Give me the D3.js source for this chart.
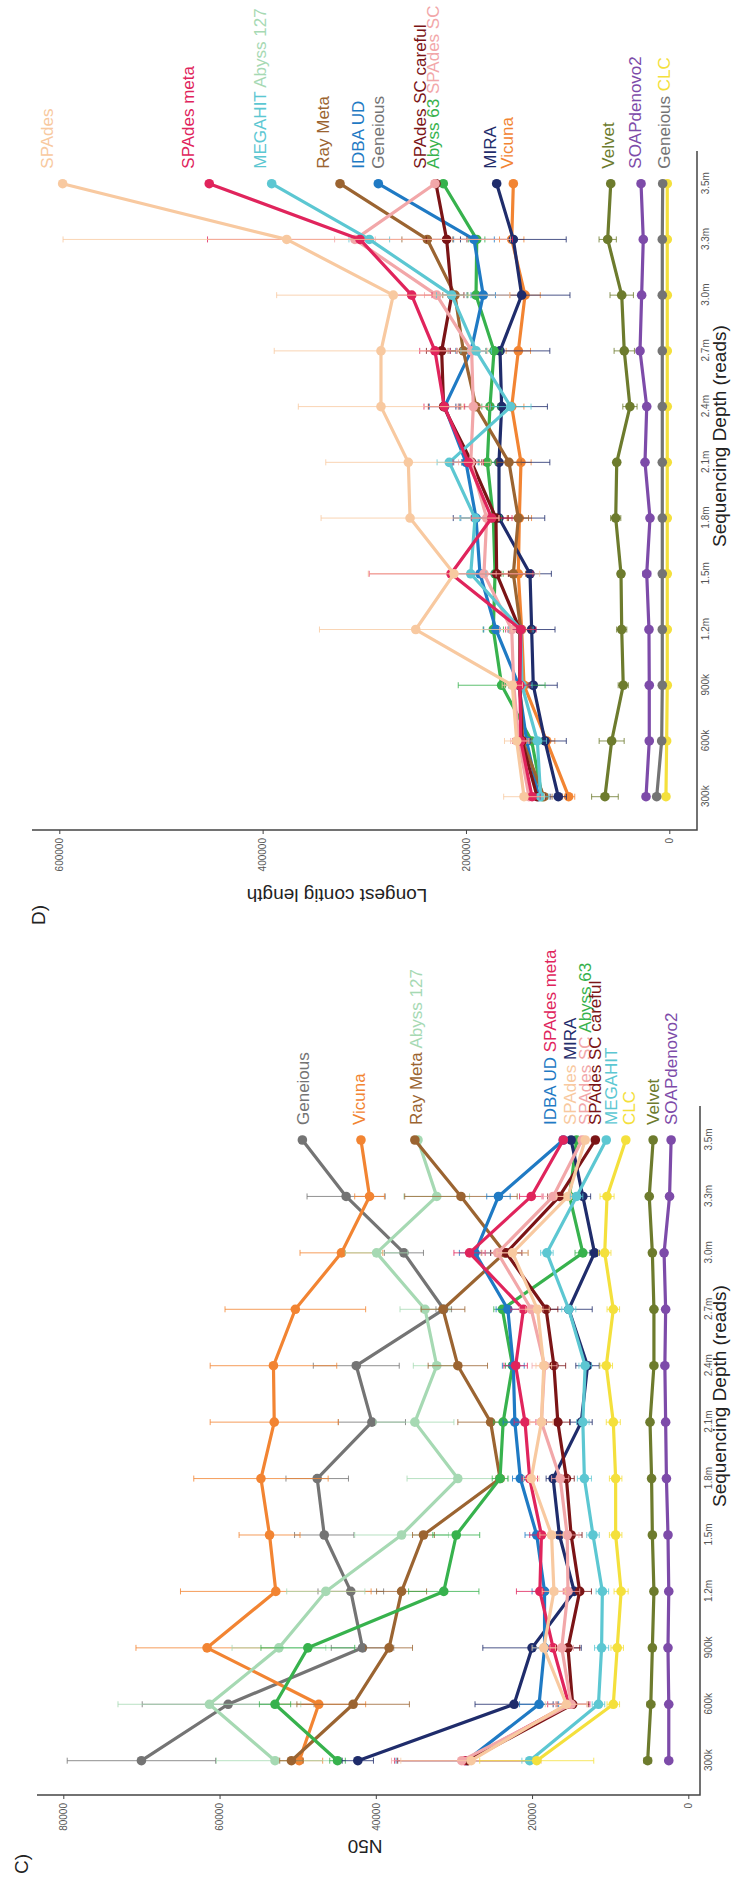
<!DOCTYPE html>
<html>
<head>
<meta charset="utf-8">
<script src="https://cdnjs.cloudflare.com/ajax/libs/d3/7.8.5/d3.min.js"></script>
<style>
  body { margin: 0; background: #fff; }
  text { font-family: "Liberation Sans", Arial, sans-serif; }
</style>
</head>
<body>
<div id="chart"></div>
<script>
// Sequencing depth categories (x axis of both panels)
var depths = ["300k", "600k", "900k", "1.2m", "1.5m", "1.8m", "2.1m", "2.4m", "2.7m", "3.0m", "3.3m", "3.5m"];

// Assembler colours
var colors = {
    "Geneious": "#747474",
    "Vicuna": "#f28432",
    "Ray Meta": "#9b6431",
    "Abyss 127": "#a6d9b3",
    "IDBA UD": "#1f7ac4",
    "SPAdes meta": "#e0245c",
    "SPAdes": "#f8c9a0",
    "MIRA": "#1f2c6b",
    "SPAdes SC": "#f2a7a9",
    "Abyss 63": "#37b24d",
    "SPAdes SC careful": "#7b1416",
    "MEGAHIT": "#5cc7d2",
    "CLC": "#f4e03c",
    "Velvet": "#6d7b2d",
    "SOAPdenovo2": "#7d4ba9"
};

// C) N50 - means
var n50Geneious = [70000, 58900, 41700, 43200, 46600, 47500, 40500, 42500, 31300, 36400, 43800, 49400];
var n50Vicuna = [49800, 47300, 61600, 52800, 53600, 54700, 53000, 53100, 50300, 44400, 40800, 41900];
var n50RayMeta = [50800, 42900, 38300, 36700, 33900, 24100, 25300, 29500, 31400, 23500, 29100, 35000];
var n50Abyss127 = [52900, 61300, 52400, 46400, 36700, 29500, 35000, 32200, 33700, 39900, 32200, 34600];
var n50Abyss63 = [44900, 52900, 48700, 31300, 29700, 24100, 23700, 22500, 23800, 13500, 15200, 14300];
var n50Mira = [42300, 22300, 20000, 14600, 16500, 17300, 13700, 12900, 15300, 12000, 13500, 15000];
var n50Idba = [28400, 19100, 18400, 18400, 19400, 21500, 22200, 22400, 23100, 27300, 24300, 16000];
var n50SpadesMeta = [28600, 15300, 17300, 19000, 18800, 20300, 20900, 22100, 21100, 28000, 20100, 16000];
var n50SpadesScCareful = [28200, 14800, 15400, 13900, 15000, 15600, 16700, 17200, 18200, 23300, 16500, 11900];
var n50SpadesSc = [29000, 15000, 16200, 15400, 15500, 16400, 18800, 18400, 20100, 24400, 17300, 13600];
var n50Spades = [27800, 15600, 18500, 17200, 17500, 20100, 18800, 18500, 19300, 22500, 15400, 13200];
var n50Megahit = [20300, 11500, 11100, 11000, 12200, 13300, 13500, 13200, 15300, 18100, 14300, 10500];
var n50Clc = [19400, 9600, 9100, 8600, 9300, 9300, 9600, 10500, 9600, 10700, 10400, 8000];
var n50Velvet = [5200, 4800, 4600, 4400, 4600, 4700, 4900, 4400, 4400, 4600, 5000, 4500];
var n50Soap = [2500, 2500, 2600, 2500, 2600, 2800, 2900, 3000, 2900, 3100, 2400, 2200];

// C) N50 - standard deviations
var n50SdGeneious = [9500, 11000, 4000, 4200, 3800, 4000, 4300, 5500, 1000, 2500, 5000, 0];
var n50SdVicuna = [3000, 6000, 9100, 12200, 3900, 8600, 8200, 8100, 9000, 5300, 1900, 0];
var n50SdRayMeta = [1500, 7200, 3000, 3200, 1400, 500, 4200, 3800, 2800, 3000, 7200, 0];
var n50SdAbyss127 = [7500, 11700, 6000, 5000, 6000, 6500, 5000, 3000, 3200, 4000, 4200, 0];
var n50SdAbyss63 = [1000, 2000, 6000, 4500, 3000, 1000, 1200, 900, 1100, 1000, 800, 0];
var n50SdMira = [2000, 5000, 6300, 1000, 1100, 900, 1400, 1500, 3000, 600, 1000, 0];
var n50SdIdba = [9000, 2500, 1500, 1600, 1500, 1000, 1500, 1400, 1500, 2000, 1500, 0];
var n50SdSpadesMeta = [9000, 2700, 1500, 3000, 1500, 1000, 1400, 1500, 1600, 2000, 1500, 0];
var n50SdSpadesScCareful = [9000, 2000, 1500, 1500, 1400, 1000, 1500, 1500, 1500, 2000, 1500, 0];
var n50SdSpadesSc = [9000, 2000, 1500, 1500, 1500, 1100, 1500, 1600, 1500, 2000, 1500, 0];
var n50SdSpades = [9000, 2700, 1500, 1500, 1500, 1000, 1500, 1000, 1500, 2000, 1500, 0];
var n50SdMegahit = [1000, 800, 900, 800, 800, 900, 800, 800, 900, 800, 800, 0];
var n50SdClc = [7300, 800, 800, 900, 800, 800, 900, 800, 800, 800, 900, 0];
var n50SdVelvet = [500, 500, 400, 400, 300, 300, 300, 300, 300, 400, 300, 0];
var n50SdSoap = [200, 200, 200, 200, 200, 200, 200, 200, 200, 300, 200, 0];

// C) end labels (names sharing a line, and where each line sits in N50 units)
var n50LabelRows = [["Geneious"], ["Vicuna"], ["Ray Meta", "Abyss 127"], ["IDBA UD", "SPAdes meta"],
    ["SPAdes", "MIRA"], ["SPAdes SC", "Abyss 63"], ["SPAdes SC careful"], ["MEGAHIT"], ["CLC"],
    ["Velvet"], ["SOAPdenovo2"]];
var n50LabelAt = [49300, 42100, 34800, 17700, 15200, 13200, 11950, 9900, 7600, 4550, 2150];

// D) Longest contig - means
var lcSpades = [142900, 150100, 154400, 249400, 211800, 255000, 256700, 283600, 283600, 271500, 376300, 596700];
var lcSpadesMeta = [135000, 146000, 147000, 146000, 214700, 174700, 197700, 221300, 230500, 253400, 304200, 452500];
var lcMegahit = [126500, 129800, 145000, 146000, 195300, 191100, 216400, 156000, 190000, 214000, 295100, 391100];
var lcRayMeta = [123300, 144200, 147000, 146000, 153400, 148500, 157700, 190100, 202600, 210800, 238000, 323900];
var lcIdba = [128500, 140300, 148000, 170500, 186200, 190100, 200000, 221000, 195000, 183000, 192100, 286200];
var lcSpadesScCareful = [130000, 145000, 146900, 147000, 169800, 170500, 194400, 222000, 223900, 214000, 219000, 229500];
var lcAbyss63 = [125000, 135400, 164900, 173100, 171400, 173100, 179000, 176400, 172400, 190100, 189400, 222300];
var lcSpadesSc = [138000, 148000, 153000, 155000, 182300, 179600, 195300, 192800, 194400, 228800, 309200, 230500];
var lcMira = [109200, 122300, 133800, 135400, 137000, 167500, 167500, 164900, 166500, 145200, 153400, 169800];
var lcVicuna = [99000, 120600, 142900, 145200, 148500, 147500, 145900, 155000, 148500, 141900, 155000, 153400];
var lcVelvet = [63300, 56700, 45300, 46800, 47500, 52700, 51700, 38700, 44300, 46800, 60600, 57600];
var lcSoap = [22900, 19700, 19700, 20000, 22200, 19000, 23900, 22200, 28800, 27200, 25600, 27800];
var lcGeneious = [12400, 7500, 6900, 6900, 6900, 6900, 6900, 6900, 6900, 6900, 6900, 6500];
var lcClc = [3300, 2600, 2000, 2000, 2000, 2000, 2000, 2000, 2000, 2000, 2000, 2000];

// D) Longest contig - standard deviations
var lcSdSpades = [20000, 12000, 10000, 94700, 84300, 87500, 81200, 81300, 105000, 114700, 220000, 0];
var lcSdSpadesMeta = [8000, 8000, 10000, 15000, 80600, 20000, 15000, 20000, 15000, 20000, 150000, 0];
var lcSdMegahit = [8000, 9000, 10000, 12000, 15000, 15000, 12000, 20000, 15000, 15000, 20000, 0];
var lcSdRayMeta = [8000, 9000, 8000, 10000, 12000, 10000, 12000, 15000, 15000, 12000, 25000, 0];
var lcSdIdba = [8000, 9000, 10000, 12000, 12000, 15000, 12000, 15000, 15000, 12000, 20000, 0];
var lcSdSpadesScCareful = [8000, 8000, 9000, 10000, 12000, 12000, 10000, 15000, 15000, 12000, 20000, 0];
var lcSdAbyss63 = [5000, 10000, 42700, 10000, 8000, 8000, 8000, 8000, 8000, 8000, 8000, 0];
var lcSdSpadesSc = [8000, 8000, 9000, 12000, 12000, 12000, 12000, 15000, 15000, 12000, 20000, 0];
var lcSdMira = [8000, 21000, 23600, 23000, 21000, 45000, 50000, 45000, 49000, 47500, 52000, 0];
var lcSdVicuna = [6000, 8000, 8000, 9000, 10000, 12000, 10000, 12000, 12000, 15000, 12000, 0];
var lcSdVelvet = [13100, 12300, 5000, 5000, 3000, 5000, 3000, 7000, 10000, 11500, 8500, 0];
var lcSdSoap = [3000, 2000, 2000, 2000, 4000, 2000, 2000, 2000, 2000, 3000, 2000, 0];
var lcSdGeneious = [2000, 1500, 1000, 1000, 1000, 1000, 1000, 1000, 1000, 1000, 1000, 0];
var lcSdClc = [500, 500, 500, 500, 500, 500, 500, 500, 500, 500, 500, 0];

// D) end labels
var lcLabelRows = [["SPAdes"], ["SPAdes meta"], ["MEGAHIT", "Abyss 127"], ["Ray Meta"], ["IDBA UD"], ["Geneious"],
    ["SPAdes SC careful"], ["Abyss 63", "SPAdes SC"], ["MIRA"], ["Vicuna"], ["Velvet"], ["SOAPdenovo2"],
    ["Geneious", "CLC"]];
var lcLabelAt = [612400, 473100, 402600, 340300, 305900, 286200, 245200, 232100, 176400, 159900, 60000, 33700, 5200];

// Series tables, in drawing order
var n50Series = [
    { name: "Geneious", mean: n50Geneious, sd: n50SdGeneious },
    { name: "Vicuna", mean: n50Vicuna, sd: n50SdVicuna },
    { name: "Abyss 127", mean: n50Abyss127, sd: n50SdAbyss127 },
    { name: "Ray Meta", mean: n50RayMeta, sd: n50SdRayMeta },
    { name: "Abyss 63", mean: n50Abyss63, sd: n50SdAbyss63 },
    { name: "MIRA", mean: n50Mira, sd: n50SdMira },
    { name: "IDBA UD", mean: n50Idba, sd: n50SdIdba },
    { name: "SPAdes meta", mean: n50SpadesMeta, sd: n50SdSpadesMeta },
    { name: "SPAdes SC careful", mean: n50SpadesScCareful, sd: n50SdSpadesScCareful },
    { name: "SPAdes SC", mean: n50SpadesSc, sd: n50SdSpadesSc },
    { name: "SPAdes", mean: n50Spades, sd: n50SdSpades },
    { name: "MEGAHIT", mean: n50Megahit, sd: n50SdMegahit },
    { name: "CLC", mean: n50Clc, sd: n50SdClc },
    { name: "Velvet", mean: n50Velvet, sd: n50SdVelvet },
    { name: "SOAPdenovo2", mean: n50Soap, sd: n50SdSoap }
];

var lcSeries = [
    { name: "CLC", mean: lcClc, sd: lcSdClc },
    { name: "Geneious", mean: lcGeneious, sd: lcSdGeneious },
    { name: "SOAPdenovo2", mean: lcSoap, sd: lcSdSoap },
    { name: "Velvet", mean: lcVelvet, sd: lcSdVelvet },
    { name: "Vicuna", mean: lcVicuna, sd: lcSdVicuna },
    { name: "MIRA", mean: lcMira, sd: lcSdMira },
    { name: "Abyss 63", mean: lcAbyss63, sd: lcSdAbyss63 },
    { name: "IDBA UD", mean: lcIdba, sd: lcSdIdba },
    { name: "Ray Meta", mean: lcRayMeta, sd: lcSdRayMeta },
    { name: "SPAdes SC careful", mean: lcSpadesScCareful, sd: lcSdSpadesScCareful },
    { name: "SPAdes SC", mean: lcSpadesSc, sd: lcSdSpadesSc },
    { name: "MEGAHIT", mean: lcMegahit, sd: lcSdMegahit },
    { name: "SPAdes meta", mean: lcSpadesMeta, sd: lcSdSpadesMeta },
    { name: "SPAdes", mean: lcSpades, sd: lcSdSpades }
];

// Generate svg
var svg = d3
    .select("#chart")
    .append("svg")
    .attr("width", 733)
    .attr("height", 1880);

svg.append("rect").attr("width", 733).attr("height", 1880).attr("fill", "#fff");

// the figure is laid out landscape (1880 x 733) and turned a quarter turn
var fig = svg.append("g").attr("transform", "translate(0,1880) rotate(-90)");

function drawPanel(p) {
    var g = fig.append("g");
    var x = d3.scalePoint().domain(depths).range(p.xRange);
    var y = d3.scaleLinear().domain(p.yDomain).range(p.yRange);

    // value axis
    var yAxis = g.append("g")
        .attr("transform", "translate(" + p.axisX + ",0)")
        .call(d3.axisLeft(y).tickValues(p.ticks).tickSize(4).tickPadding(4).tickFormat(d3.format("d")));
    yAxis.select(".domain").remove();
    yAxis.selectAll("line").attr("stroke", "#444");
    yAxis.selectAll("text")
        .attr("font-size", 10)
        .attr("font-family", "Liberation Sans, Arial, sans-serif")
        .attr("fill", "#555");

    // depth axis
    var xAxis = g.append("g")
        .attr("transform", "translate(0," + p.axisY + ")")
        .call(d3.axisBottom(x).tickSize(0).tickPadding(5));
    xAxis.select(".domain").remove();
    xAxis.selectAll("text")
        .attr("font-size", 10)
        .attr("font-family", "Liberation Sans, Arial, sans-serif")
        .attr("fill", "#555");

    // L-shaped axis lines
    g.append("path")
        .attr("d", "M" + p.axisX + "," + p.axisTop + "V" + p.axisY + "H" + p.axisEnd)
        .attr("fill", "none")
        .attr("stroke", "#444")
        .attr("stroke-width", 1.5);

    var line = d3.line()
        .x(function (d) { return x(d.depth); })
        .y(function (d) { return y(d.mean); });

    p.series.forEach(function (s) {
        var col = colors[s.name];
        var sg = g.append("g");
        var pts = s.mean.map(function (m, i) {
            return { depth: depths[i], mean: m, sd: s.sd[i] };
        });

        // error bars
        sg.selectAll(".err")
            .data(pts.filter(function (d) { return d.sd > 0; }))
            .enter()
            .append("path")
            .attr("class", "err")
            .attr("d", function (d) {
                var xx = x(d.depth), y1 = y(d.mean - d.sd), y2 = y(d.mean + d.sd);
                return "M" + (xx - 3) + "," + y1 + "H" + (xx + 3) +
                    "M" + xx + "," + y1 + "V" + y2 +
                    "M" + (xx - 3) + "," + y2 + "H" + (xx + 3);
            })
            .attr("fill", "none")
            .attr("stroke", col)
            .attr("stroke-width", 1)
            .attr("opacity", 0.8);

        sg.append("path")
            .datum(pts)
            .attr("d", line)
            .attr("fill", "none")
            .attr("stroke", col)
            .attr("stroke-width", 3.2)
            .attr("stroke-linejoin", "round");

        sg.selectAll("circle")
            .data(pts)
            .enter()
            .append("circle")
            .attr("cx", function (d) { return x(d.depth); })
            .attr("cy", function (d) { return y(d.mean); })
            .attr("r", 4.8)
            .attr("fill", col);
    });

    // end labels
    var labelX = x(depths[depths.length - 1]) + 15;
    p.labelRows.forEach(function (row, k) {
        var t = g.append("text")
            .attr("x", labelX)
            .attr("y", y(p.labelAt[k]))
            .attr("dy", "0.35em")
            .attr("font-size", 17);
        row.forEach(function (name, j) {
            t.append("tspan")
                .attr("fill", colors[name])
                .text((j ? " " : "") + name);
        });
    });

    // axis titles
    g.append("text")
        .attr("x", p.xlabX)
        .attr("y", 726)
        .attr("font-size", 19)
        .attr("fill", "#222")
        .text("Sequencing Depth (reads)");

    g.append("text")
        .attr("transform", "translate(" + p.ylabX + "," + p.ylabY + ") rotate(-90)")
        .attr("text-anchor", "middle")
        .attr("font-size", 19)
        .attr("fill", "#222")
        .text(p.ylab);

    g.append("text")
        .attr("x", p.tagX)
        .attr("y", p.tagY)
        .attr("font-size", 19)
        .attr("fill", "#222")
        .text(p.tag);
}

// C) N50
drawPanel({
    series: n50Series,
    labelRows: n50LabelRows,
    labelAt: n50LabelAt,
    xRange: [119.3, 740],
    yDomain: [0, 80000],
    yRange: [688.3, 63.3],
    ticks: [0, 20000, 40000, 60000, 80000],
    axisX: 85, axisTop: 37, axisY: 700, axisEnd: 774,
    xlabX: 373,
    ylab: "N50", ylabX: 40, ylabY: 365,
    tag: "C)", tagX: 6, tagY: 28
});

// D) Longest contig length
drawPanel({
    series: lcSeries,
    labelRows: lcLabelRows,
    labelAt: lcLabelAt,
    xRange: [1083.3, 1696.3],
    yDomain: [0, 600000],
    yRange: [669.3, 59.3],
    ticks: [0, 200000, 400000, 600000],
    axisX: 1050, axisTop: 32, axisY: 697, axisEnd: 1729,
    xlabX: 1333,
    ylab: "Longest contig length", ylabX: 991, ylabY: 337,
    tag: "D)", tagX: 955, tagY: 45
});
</script>
</body>
</html>
